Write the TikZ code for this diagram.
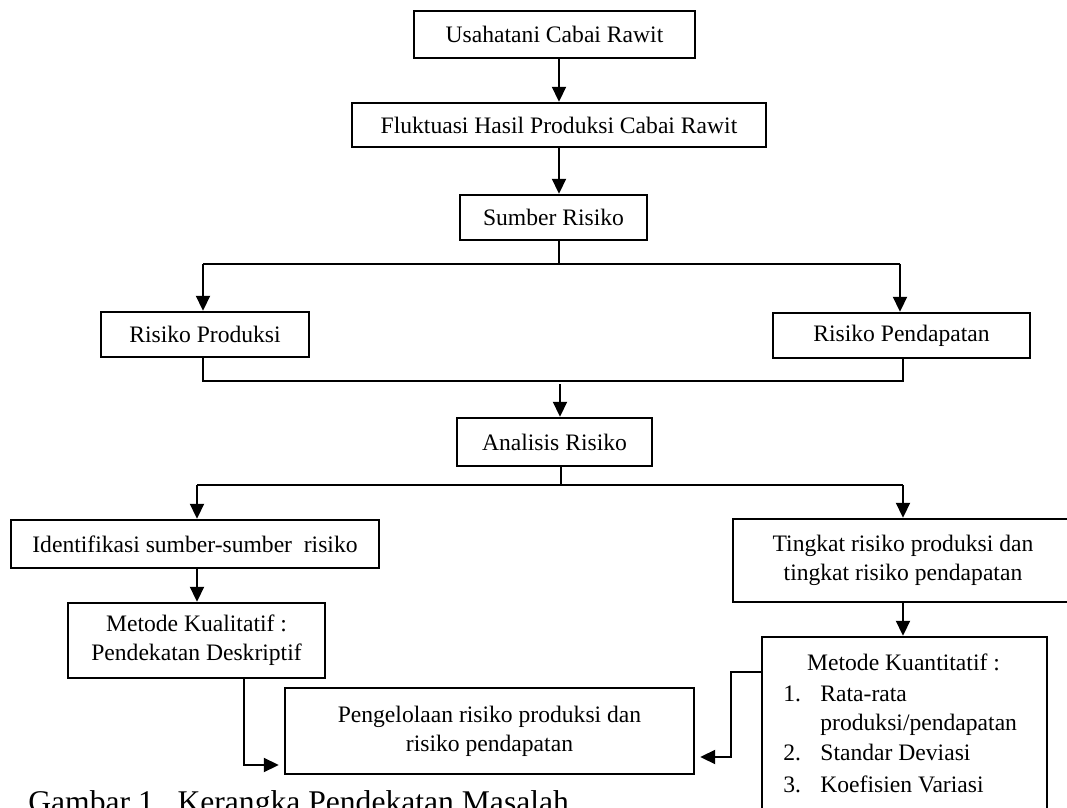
\documentclass[tikz,border=0pt]{standalone}
\usepackage{fontspec}
\setmainfont{Liberation Serif}
\usetikzlibrary{arrows.meta}
\tikzset{
  box/.style={draw, line width=1.2pt, inner sep=0pt, align=center,
    font=\fontsize{11.8}{14.5}\selectfont},
  txt/.style={inner sep=0pt, font=\fontsize{11.8}{14.5}\selectfont},
  thinline/.style={line width=0.55pt},
  arr/.style={line width=0.95pt, -{Triangle[width=7pt,length=7.5pt]}},
}
\begin{document}
\begin{tikzpicture}[x=0.5pt,y=-0.5pt]
\useasboundingbox (0,0) rectangle (1067,808);
\clip (0,0) rectangle (1067,808);
% boxes
\node[box, minimum width=140.5pt, minimum height=23.5pt] (usaha) at (554.5,34.5) {Usahatani Cabai Rawit};
\node[box, minimum width=207pt, minimum height=22pt] (fluk) at (559,125) {Fluktuasi Hasil Produksi Cabai Rawit};
\node[box, minimum width=93.5pt, minimum height=22.5pt] (sumber) at (553.5,217.5) {Sumber Risiko};
\node[box, minimum width=104pt, minimum height=22.5pt] (rprod) at (205,334.5) {Risiko Produksi};
\node[box, minimum width=128.5pt, minimum height=22.5pt] (rpend) at (901.5,335.5) {Risiko Pendapatan};
\node[box, minimum width=97.5pt, minimum height=24pt] (analisis) at (554.5,442) {Analisis Risiko};
\node[box, minimum width=184pt, minimum height=24pt] (ident) at (195,544) {Identifikasi sumber-sumber\ \ risiko};
\node[box, minimum width=128.5pt, minimum height=37.5pt] (kual) at (196.5,640.5) {Metode Kualitatif :\\Pendekatan Deskriptif};
\node[box, minimum width=204.5pt, minimum height=43pt] (peng) at (489.5,731) {Pengelolaan risiko produksi dan\\risiko pendapatan};
\node[box, minimum width=170pt, minimum height=41.5pt] (ting) at (903,560.5) {Tingkat risiko produksi dan\\tingkat risiko pendapatan};
\node[box, minimum width=142.5pt, minimum height=96.5pt] (kuan) at (904.5,733.5) {};
% text inside Metode Kuantitatif
\node[txt, anchor=base] (kuanh) at (903.5,670) {Metode Kuantitatif :};
\node[txt, anchor=base west] (n1) at (783,701) {1.};
\node[txt, anchor=base west] (t1) at (820,701) {Rata-rata};
\node[txt, anchor=base west] (t1b) at (820,730) {produksi/pendapatan};
\node[txt, anchor=base west] (n2) at (783,760) {2.};
\node[txt, anchor=base west] (t2) at (820,760) {Standar Deviasi};
\node[txt, anchor=base west] (n3) at (783,792) {3.};
\node[txt, anchor=base west] (t3) at (820,792) {Koefisien Variasi};
% caption
\node[inner sep=0pt, anchor=base west, font=\fontsize{15.8}{18}\selectfont] (cap) at (28,812) {Gambar 1.\ \ Kerangka Pendekatan Masalah};
% junction coordinates
\coordinate (a1) at (559,0);
\coordinate (j1) at (559,264);
\coordinate (j1l) at (203,264);
\coordinate (j1r) at (900,264);
\coordinate (j2l) at (203,381);
\coordinate (j2r) at (903,381);
\coordinate (j2s) at (560,384);
\coordinate (j3) at (561,485);
\coordinate (j3l) at (197,485);
\coordinate (j3r) at (903,485);
\coordinate (k1) at (244,765);
\coordinate (k2a) at (731,672);
\coordinate (k2b) at (731,757);
% connectors
\draw[arr] (usaha.south -| a1) -- (fluk.north -| a1);
\draw[arr] (fluk.south -| a1) -- (sumber.north -| a1);
\draw[thinline] (sumber.south -| j1) -- (j1);
\draw[thinline] (j1l) -- (j1r);
\draw[arr] (j1l) -- (rprod.north -| j1l);
\draw[arr] (j1r) -- (rpend.north -| j1r);
\draw[thinline] (rprod.south -| j2l) -- (j2l) -- (j2r) -- (rpend.south -| j2r);
\draw[arr] (j2s) -- (analisis.north -| j2s);
\draw[thinline] (analisis.south -| j3) -- (j3);
\draw[thinline] (j3l) -- (j3r);
\draw[arr] (j3l) -- (ident.north -| j3l);
\draw[arr] (j3r) -- (ting.north -| j3r);
\draw[arr] (ident.south -| j3l) -- (kual.north -| j3l);
\draw[arr] (ting.south -| j3r) -- (kuan.north -| j3r);
\draw[arr, shorten >=2.5pt] (kual.south -| k1) -- (k1) -- (k1 -| peng.west);
\draw[arr, shorten >=2.5pt] (kuan.west |- k2a) -- (k2a) -- (k2b) -- (k2b -| peng.east);
\end{tikzpicture}
\end{document}
